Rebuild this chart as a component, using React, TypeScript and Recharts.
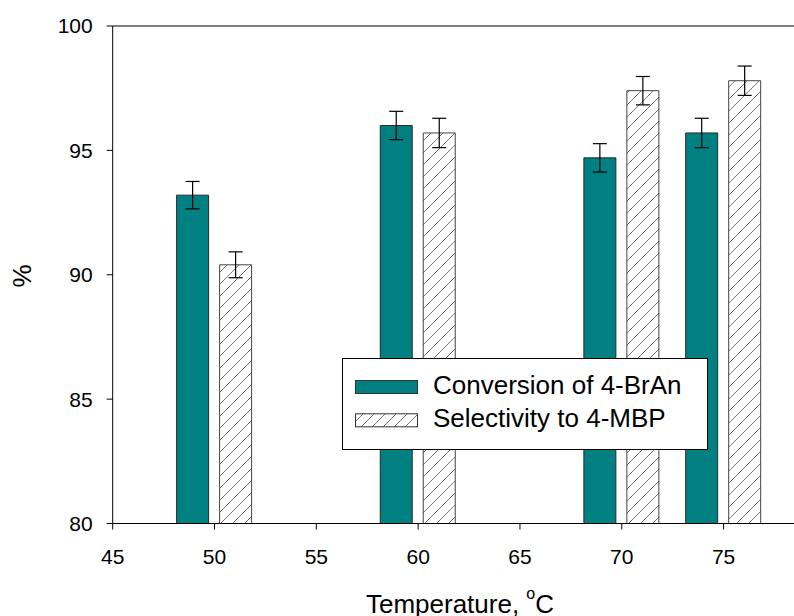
import {
  ComposedChart,
  Bar,
  XAxis,
  YAxis,
  ErrorBar,
  ReferenceLine,
  Legend,
} from "recharts";

const temperatures = [50, 60, 70, 75];
const conversion = [93.2, 96.0, 94.7, 95.7];
const conversionErr = [0.55, 0.57, 0.57, 0.59];
const selectivity = [90.4, 95.7, 97.4, 97.8];
const selectivityErr = [0.52, 0.59, 0.57, 0.59];
const seriesNames = ["Conversion of 4-BrAn", "Selectivity to 4-MBP"];
const xTicks = [45, 50, 55, 60, 65, 70, 75];
const yTicks = [80, 85, 90, 95, 100];

const data = temperatures.map((t, i) => ({
  t,
  conv: conversion[i],
  convErr: conversionErr[i],
  sel: selectivity[i],
  selErr: selectivityErr[i],
}));

const FONT = '"Liberation Sans", Arial, sans-serif';
const TEAL = "#008080";

function Hatch({ id, size }: { id: string; size: number }) {
  const s = size;
  return (
    <pattern id={id} patternUnits="userSpaceOnUse" width={s} height={s}>
      <rect width={s} height={s} fill="#fff" />
      <path
        d={`M0,${s} L${s},0 M-3,3 L3,-3 M${s - 3},${s + 3} L${s + 3},${s - 3}`}
        stroke="#777"
        strokeWidth={1}
      />
    </pattern>
  );
}

function LegendBox() {
  return (
    <svg width={366} height={92} style={{ display: "block" }}>
      <defs>
        <Hatch id="hatchLegend" size={11} />
      </defs>
      <rect x={0.5} y={0.5} width={365} height={91} fill="#fff" stroke="#000" />
      {seriesNames.map((name, i) => (
        <g key={name}>
          <rect
            x={13.5}
            y={22.5 + i * 33.3}
            width={62}
            height={13}
            fill={i === 0 ? TEAL : "url(#hatchLegend)"}
            stroke="#333"
          />
          <text x={91} y={36 + i * 33} fontSize={26} fontFamily={FONT} fill="#000">
            {name}
          </text>
        </g>
      ))}
    </svg>
  );
}

const XTitle = () => (
  <text x={460} y={613} textAnchor="middle" fontSize={26} fontFamily={FONT} fill="#000">
    Temperature,{" "}
    <tspan dy={-14} fontSize={16}>
      o
    </tspan>
    <tspan dy={14}>C</tspan>
  </text>
);

const YTitle = () => (
  <text
    x={22}
    y={276}
    transform="rotate(-90, 22, 276)"
    textAnchor="middle"
    dominantBaseline="central"
    fontSize={26}
    fontFamily={FONT}
    fill="#000"
  >
    %
  </text>
);

const tickStyle = { fontSize: 21, fill: "#000", fontFamily: FONT };

export default function App() {
  return (
    <div
      style={{
        position: "absolute",
        left: 0,
        top: 0,
        width: 794,
        height: 616,
        overflow: "hidden",
        background: "#fff",
      }}
    >
      <ComposedChart
        width={850}
        height={616}
        data={data}
        margin={{ top: 26, right: 24.6, bottom: 32.5, left: 0 }}
        barSize={32}
        barGap={11}
        style={{ fontFamily: FONT }}
      >
        <defs>
          <Hatch id="hatchBar" size={12} />
        </defs>
        <XAxis
          type="number"
          dataKey="t"
          domain={[45, 80]}
          ticks={xTicks}
          allowDataOverflow
          height={60}
          tickSize={6}
          tickMargin={20}
          fontSize={21}
          tick={tickStyle}
          axisLine={{ stroke: "#000" }}
          tickLine={{ stroke: "#000" }}
          label={{ content: XTitle }}
        />
        <YAxis
          type="number"
          domain={[80, 100]}
          ticks={yTicks}
          allowDataOverflow
          width={112.7}
          tickSize={6}
          tickMargin={14}
          fontSize={21}
          tick={tickStyle}
          axisLine={{ stroke: "#000" }}
          tickLine={{ stroke: "#000" }}
          label={{ content: YTitle }}
        />
        <ReferenceLine y={100} stroke="#000" />
        <Legend
          layout="vertical"
          align="center"
          verticalAlign="middle"
          content={() => <LegendBox />}
          wrapperStyle={{ left: 342, top: 358, width: 366, height: 92 }}
        />
        <Bar
          dataKey="conv"
          name={seriesNames[0]}
          fill={TEAL}
          stroke="#2a2a2a"
          strokeWidth={1}
          isAnimationActive={false}
        >
          <ErrorBar
            dataKey="convErr"
            direction="y"
            width={7}
            stroke="#000"
            strokeWidth={1.2}
            isAnimationActive={false}
          />
        </Bar>
        <Bar
          dataKey="sel"
          name={seriesNames[1]}
          fill="url(#hatchBar)"
          stroke="#444"
          strokeWidth={1}
          isAnimationActive={false}
        >
          <ErrorBar
            dataKey="selErr"
            direction="y"
            width={7}
            stroke="#000"
            strokeWidth={1.2}
            isAnimationActive={false}
          />
        </Bar>
      </ComposedChart>
    </div>
  );
}
